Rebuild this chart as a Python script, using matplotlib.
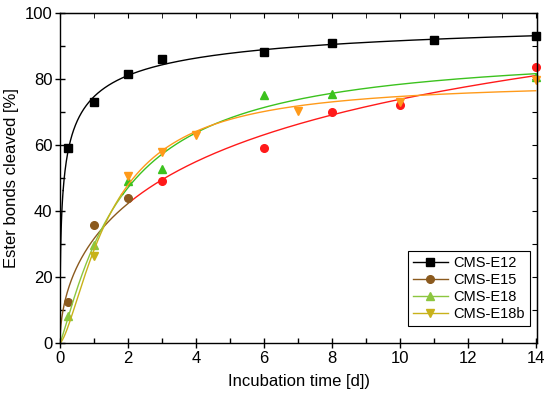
import numpy as np
import matplotlib.pyplot as plt
from matplotlib.ticker import MultipleLocator

plt.rcParams['font.family'] = ['Liberation Sans', 'DejaVu Sans']

# data
labels = ['CMS-E12', 'CMS-E15', 'CMS-E18', 'CMS-E18b']
x_e12 = [0.25, 1, 2, 3, 6, 8, 11, 14]
y_e12 = [59.2, 73.0, 81.6, 86.0, 88.1, 90.8, 91.7, 93.0]
x_e15 = [0.25, 1, 2, 3, 6, 8, 10, 14]
y_e15 = [12.5, 35.7, 44.0, 49.2, 59.0, 69.9, 72.2, 83.5]
x_e18 = [0.25, 1, 2, 3, 6, 8, 14]
y_e18 = [8.2, 29.8, 49.0, 52.7, 75.2, 75.4, 80.5]
x_e18b = [1, 2, 3, 4, 7, 10, 14]
y_e18b = [26.4, 50.6, 58.0, 63.0, 70.2, 73.1, 79.6]

xs = [x_e12, x_e15, x_e18, x_e18b]
ys = [y_e12, y_e15, y_e18, y_e18b]
markers = ['s', 'o', '^', 'v']
# main colours and the colours of the lower-left patch / legend
cols = ['black', '#ff1a1a', '#3cc21e', '#ff9a1a']
alt_cols = ['black', '#8b5a1e', '#8cc63f', '#c8b21a']


def hill_fit(x, y):
    # simple grid search for y = a*x^n/(k^n+x^n)
    x = np.asarray(x, float)
    y = np.asarray(y, float)
    K, N = np.meshgrid(np.logspace(-3, 2, 300), np.linspace(0.2, 2.5, 231))
    B = x**N[..., None] / (K[..., None]**N[..., None] + x**N[..., None])
    a = (B * y).sum(-1) / (B * B).sum(-1)
    sse = ((a[..., None] * B - y)**2).sum(-1)
    i = np.unravel_index(sse.argmin(), sse.shape)
    return a[i], K[i], N[i]


fig = plt.figure(figsize=(5.5, 3.96), dpi=100)
ax = fig.add_axes([0.109, 0.134, 0.868, 0.833])

t = np.linspace(0, 14, 1500)
for x, y, m, c, c2, lab in zip(xs, ys, markers, cols, alt_cols, labels):
    a, k, n = hill_fit(x, y)
    f = a * t**n / (k**n + t**n)
    low = (t <= 2.05) & (f <= 45)
    hi = ~low
    # overlap one point so the segments join
    idx = np.argmax(hi) if hi.any() else len(t)
    ax.plot(t[:idx + 1], f[:idx + 1], color=c2, lw=1.0)
    ax.plot(t[idx:], f[idx:], color=c, lw=1.0)
    x = np.asarray(x)
    y = np.asarray(y)
    pl = (x <= 2.05) & (y <= 45)
    ax.plot(x[~pl], y[~pl], m, color=c, ms=5.5, clip_on=False)
    ax.plot(x[pl], y[pl], m, color=c2, ms=5.5, clip_on=False)
    ax.plot([], [], '-' + m, color=c2, ms=5.5, lw=1.0, label=lab)

ax.set_xlim(0, 14.05)
ax.set_ylim(0, 100)
ax.xaxis.set_major_locator(MultipleLocator(2))
ax.xaxis.set_minor_locator(MultipleLocator(1))
ax.yaxis.set_major_locator(MultipleLocator(20))
ax.yaxis.set_minor_locator(MultipleLocator(10))
ax.tick_params(which='major', direction='inout', length=7, width=1, labelsize=12, pad=2)
ax.tick_params(which='minor', direction='in', length=3.5, width=1)
for s in ax.spines.values():
    s.set_linewidth(1.0)

top = ax.secondary_xaxis('top')
top.xaxis.set_major_locator(MultipleLocator(2))
top.xaxis.set_minor_locator(MultipleLocator(1))
top.tick_params(which='both', direction='in', length=3.5, labeltop=False)
right = ax.secondary_yaxis('right')
right.yaxis.set_major_locator(MultipleLocator(10))
right.tick_params(which='both', direction='in', length=3.5, labelright=False)

ax.set_xlabel('Incubation time [d])', fontsize=12, labelpad=6)
ax.set_ylabel('Ester bonds cleaved [%]', fontsize=12, labelpad=4)

leg = ax.legend(loc='lower right', bbox_to_anchor=(0.985, 0.052), borderaxespad=0,
                fontsize=10.5, fancybox=False, edgecolor='black', framealpha=1,
                handlelength=2.4, handletextpad=0.4, borderpad=0.35, labelspacing=0.2)
leg.get_frame().set_linewidth(0.8)

fig.savefig('out.png', dpi=100)
